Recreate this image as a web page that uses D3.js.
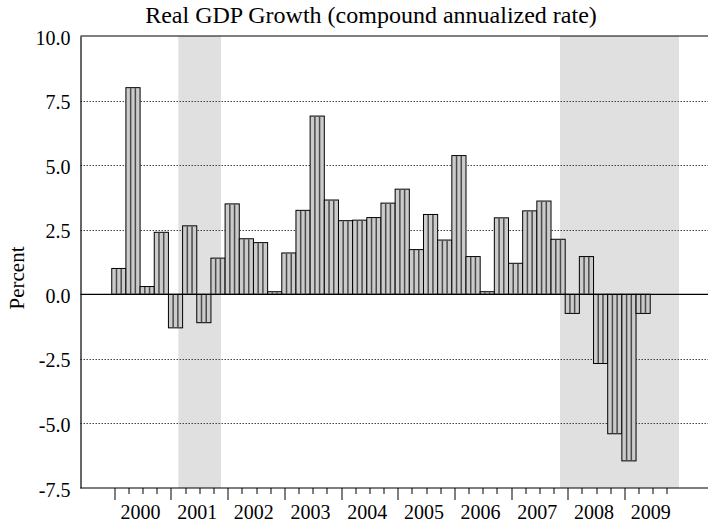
<!DOCTYPE html>
<html>
<head>
<meta charset="utf-8">
<script src="https://cdn.jsdelivr.net/npm/d3@7"></script>
<style>
  body { margin: 0; background: #fff; }
  svg text { font-family: "Liberation Serif", "Times New Roman", serif !important; fill: #000; }
  .bar { fill: #cbcbcb; stroke: #000; stroke-width: 1; }
  .stripe { stroke: #4a4a4a; stroke-width: 1.5; }
  .grid { stroke: #444; stroke-width: 1; stroke-dasharray: 1.5,1.5; }
  .recession { fill: #e0e0e0; }
</style>
</head>
<body>
<div id="chart_placeholder"></div>
<script>
// quarterly growth, 2000Q1 - 2009Q2
var years = ["2000", "2001", "2002", "2003", "2004", "2005", "2006", "2007", "2008", "2009"];
var growth = [
  1.0, 8.0, 0.3, 2.4,
  -1.3, 2.65, -1.1, 1.4,
  3.5, 2.15, 2.0, 0.1,
  1.6, 3.25, 6.9, 3.65,
  2.85, 2.87, 2.97, 3.53,
  4.07, 1.73, 3.09, 2.1,
  5.37, 1.46, 0.1, 2.96,
  1.2, 3.23, 3.61, 2.13,
  -0.74, 1.46, -2.68, -5.4,
  -6.45, -0.74
];
var yTicks = [-7.5, -5.0, -2.5, 0.0, 2.5, 5.0, 7.5, 10.0];
// recession periods in quarter units from 2000Q1
var recessions = [[4.52, 7.53], [31.45, 39.85]];

var margin = {top: 36, right: 0, bottom: 41, left: 80.5},
    width = 708 - (margin.left + margin.right),
    height = 529 - (margin.top + margin.bottom);

var serif = "'Liberation Serif', 'Times New Roman', serif";

var x = d3.scaleLinear().domain([0, 40]).range([33.8, 600.6]);
var y = d3.scaleLinear().domain([-7.5, 10]).range([height, 0]);
var qw = x(1) - x(0);
var off = 0.18; // bars sit slightly left of the quarter ticks

var svg = d3.select("#chart_placeholder")
  .append("svg")
  .attr("width", width + (margin.left + margin.right))
  .attr("height", height + (margin.top + margin.bottom))
  .attr("font-family", serif);

svg.append("text")
  .attr("x", 371)
  .attr("y", 23)
  .attr("text-anchor", "middle")
  .style("font-size", "24px")
  .text("Real GDP Growth (compound annualized rate)");

svg.append("text")
  .attr("transform", "translate(24," + 278 + ") rotate(-90)")
  .attr("text-anchor", "middle")
  .style("font-size", "21px")
  .text("Percent");

var g = svg.append("g")
  .attr("transform", "translate(" + margin.left + "," + margin.top + ")");

g.selectAll(".recession")
  .data(recessions)
  .enter().append("rect")
  .attr("class", "recession")
  .attr("x", function(d) { return x(d[0]); })
  .attr("width", function(d) { return x(d[1]) - x(d[0]); })
  .attr("y", 0)
  .attr("height", height);

g.selectAll(".grid")
  .data(yTicks.filter(function(d) { return d != 0 && d != 10 && d != -7.5; }))
  .enter().append("line")
  .attr("class", "grid")
  .attr("x1", 0).attr("x2", width)
  .attr("y1", function(d) { return Math.round(y(d)) + 0.5; })
  .attr("y2", function(d) { return Math.round(y(d)) + 0.5; });

var bars = g.selectAll(".b")
  .data(growth)
  .enter().append("g");

bars.append("rect")
  .attr("class", "bar")
  .attr("x", function(d, i) { return x(i - off); })
  .attr("width", qw)
  .attr("y", function(d) { return y(Math.max(0, d)); })
  .attr("height", function(d) { return Math.abs(y(d) - y(0)); });

[1/3, 2/3].forEach(function(f) {
  bars.append("line")
    .attr("class", "stripe")
    .attr("x1", function(d, i) { return x(i - off + f); })
    .attr("x2", function(d, i) { return x(i - off + f); })
    .attr("y1", function(d) { return y(Math.max(0, d)) + 0.5; })
    .attr("y2", function(d) { return y(Math.min(0, d)) - 0.5; });
});

// zero line
g.append("line")
  .attr("x1", 0).attr("x2", width)
  .attr("y1", y(0)).attr("y2", y(0))
  .attr("stroke", "#000").attr("stroke-width", 1.2);

// frame: top and left
g.append("line")
  .attr("x1", 0).attr("x2", width)
  .attr("y1", 0).attr("y2", 0)
  .attr("stroke", "#000").attr("stroke-width", 1.2);

var yAxis = g.append("g")
  .call(d3.axisLeft(y).tickValues(yTicks).tickSize(0).tickPadding(10)
    .tickFormat(function(d) { return d3.format(".1f")(d).replace("\u2212", "-"); }));
yAxis.attr("font-family", serif).attr("font-size", 20);
yAxis.select(".domain").attr("stroke", "#000").attr("stroke-width", 1.2);
yAxis.selectAll("text")
  .attr("font-family", serif)
  .attr("dy", "0.4em");

// bottom axis with quarter ticks
var xAxis = g.append("g")
  .attr("transform", "translate(0," + height + ")");
xAxis.append("line")
  .attr("x1", 0).attr("x2", width)
  .attr("y1", 0).attr("y2", 0)
  .attr("stroke", "#000").attr("stroke-width", 1.2);
xAxis.selectAll(".qt")
  .data(d3.range(0, 40))
  .enter().append("line")
  .attr("x1", function(d) { return Math.round(x(d)) + 0.5; })
  .attr("x2", function(d) { return Math.round(x(d)) + 0.5; })
  .attr("y1", 0)
  .attr("y2", function(d) { return d % 4 == 0 ? 12 : 6; })
  .attr("stroke", "#000");
xAxis.selectAll(".yl")
  .data(years)
  .enter().append("text")
  .attr("x", function(d, i) { return x(i * 4 + 1.85); })
  .attr("y", 31)
  .attr("text-anchor", "middle")
  .attr("font-family", serif)
  .style("font-size", "20px")
  .text(function(d) { return d; });
</script>
</body>
</html>
